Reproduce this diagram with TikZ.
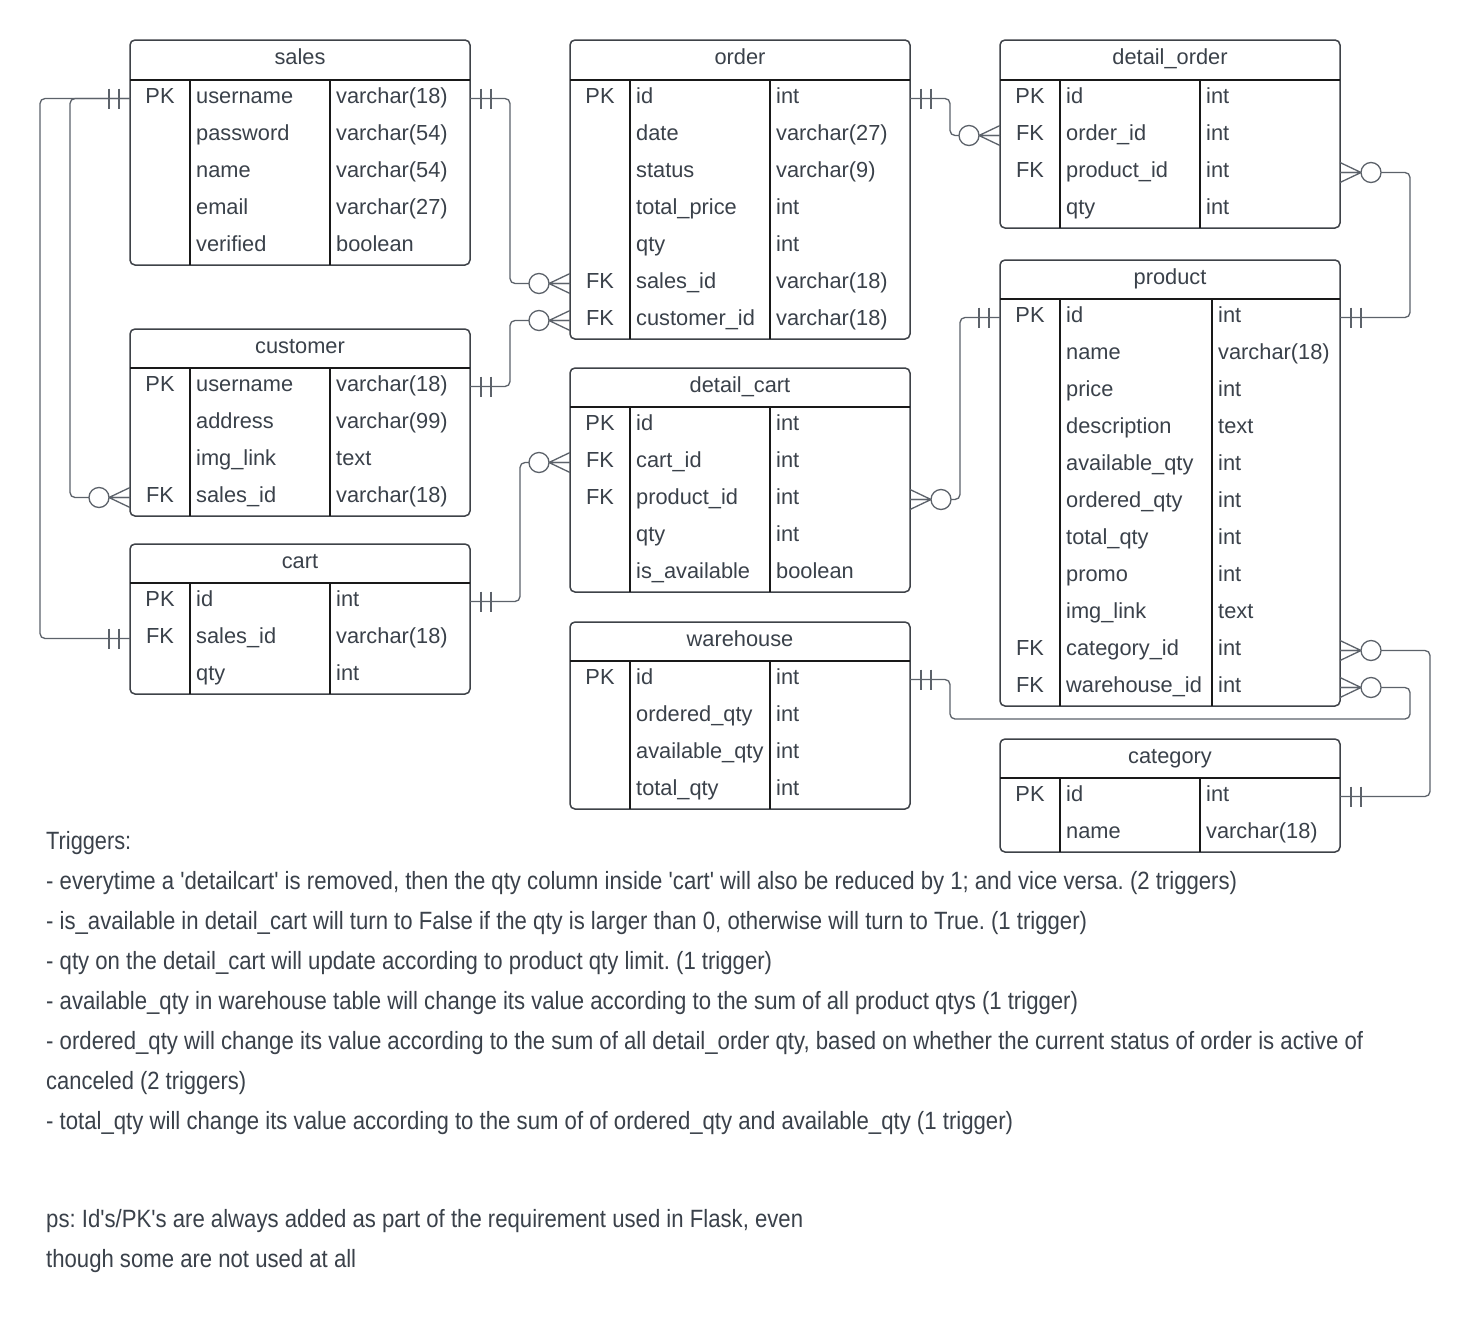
\documentclass[tikz,border=0pt]{standalone}
\usepackage{fontspec}
\usepackage{graphicx}
\setmainfont{Liberation Sans}
\frenchspacing

\definecolor{ink}{RGB}{58,65,74}
\definecolor{frame}{RGB}{62,66,72}
\definecolor{rulecol}{RGB}{25,25,25}
\definecolor{wire}{RGB}{92,98,106}

% condensed note lines: set each line to a given width
\newsavebox\notebox
\newlength\notew
\newcommand{\notefit}[2]{%
  \sbox\notebox{#2}\notew=\wd\notebox
  \pgfmathsetmacro\notescale{#1/\notew}%
  \scalebox{\notescale}[1]{\usebox\notebox}}
\newcommand{\notesize}{\fontsize{25}{30}\selectfont}
\newcommand{\sq}{\textquotesingle}

\tikzset{
  entity/.style={draw=frame, line width=1.5pt, fill=white, rounded corners=5pt,
    anchor=north west, minimum width=340pt, inner sep=0pt, outer sep=0pt},
  tabrule/.style={draw=rulecol, line width=1.4pt},
  rowslot/.style={anchor=north west, minimum width=340pt, minimum height=37pt,
    inner sep=0pt, outer sep=0pt},
  celltext/.style={inner sep=0pt, text=ink},
  wire/.style={draw=wire, line width=1.3pt, rounded corners=5pt},
  onebar/.pic={\draw[wire, rounded corners=0pt] (-11,-10) -- (-11,10) (-21,-10) -- (-21,10);},
  crowfoot/.pic={\draw[wire, rounded corners=0pt] (0,-10) -- (-21,0) -- (0,10) (0,0) -- (-21,0);
    \filldraw[wire, fill=white] (-31,0) circle[radius=10];},
  noteline/.style={anchor=base west, inner sep=0pt, text=ink, font=\notesize},
}

% #1 name, #2 left, #3 top, #4 header bottom, #5 rows, #6 type column offset,
% #7 title, #8 rows as key/field/type
\newcommand{\erentity}[8]{%
  \pgfmathsetmacro\erbot{#4+37*#5}%
  \node[entity, minimum height={\erbot-#3}] (#1) at (#2,#3) {};
  \draw[tabrule] (#2,#4) -- ++(340,0);
  \draw[tabrule] ({#2+60},#4) -- ({#2+60},\erbot);
  \draw[tabrule] ({#2+#6},#4) -- ({#2+#6},\erbot);
  \node[celltext, anchor=base] (#1-title) at ({#2+170},{#3+24}) {#7};
  \foreach \k/\f/\t [count=\i] in {#8} {
    \pgfmathsetmacro\rt{#4+37*(\i-1)}
    \node[rowslot] (#1-r\i) at (#2,\rt) {};
    \node[celltext, anchor=base] (#1-k\i) at ({#2+30},{\rt+23}) {\k};
    \node[celltext, anchor=base west] (#1-f\i) at ({#2+66},{\rt+23}) {\f};
    \node[celltext, anchor=base west] (#1-t\i) at ({#2+#6+6},{\rt+23}) {\t};
  }%
}

\begin{document}
\begin{tikzpicture}[x=1pt, y=-1pt, font=\fontsize{21.8}{26}\selectfont]
\fill[white] (0,0) rectangle (1480,1317);
\useasboundingbox (0,0) rectangle (1480,1317);

% tables
\erentity{sales}{130}{40}{80}{5}{200}{sales}{PK/username/varchar(18), /password/varchar(54), /name/varchar(54), /email/varchar(27), /verified/boolean}
\erentity{order}{570}{40}{80}{7}{200}{order}{PK/id/int, /date/varchar(27), /status/varchar(9), /total\_price/int, /qty/int, FK/sales\_id/varchar(18), FK/customer\_id/varchar(18)}
\erentity{dorder}{1000}{40}{80}{4}{200}{detail\_order}{PK/id/int, FK/order\_id/int, FK/product\_id/int, /qty/int}
\erentity{customer}{130}{329}{368}{4}{200}{customer}{PK/username/varchar(18), /address/varchar(99), /img\_link/text, FK/sales\_id/varchar(18)}
\erentity{cart}{130}{544}{583}{3}{200}{cart}{PK/id/int, FK/sales\_id/varchar(18), /qty/int}
\erentity{dcart}{570}{368}{407}{5}{200}{detail\_cart}{PK/id/int, FK/cart\_id/int, FK/product\_id/int, /qty/int, /is\_available/boolean}
\erentity{warehouse}{570}{622}{661}{4}{200}{warehouse}{PK/id/int, /ordered\_qty/int, /available\_qty/int, /total\_qty/int}
\erentity{product}{1000}{260}{299}{11}{212}{product}{PK/id/int, /name/varchar(18), /price/int, /description/text, /available\_qty/int, /ordered\_qty/int, /total\_qty/int, /promo/int, /img\_link/text, FK/category\_id/int, FK/warehouse\_id/int}
\erentity{category}{1000}{739}{778}{2}{200}{category}{PK/id/int, /name/varchar(18)}

% relationships
\coordinate (whbend) at (950,719);
\draw[wire] (sales-r1.west) -- ++(-90,0) |- (cart-r2.west);
\draw[wire] (sales-r1.west) -- ++(-60,0) |- (customer-r4.west);
\draw[wire] (sales-r1.east) -- ++(40,0) |- (order-r6.west);
\draw[wire] (customer-r1.east) -- ++(40,0) |- (order-r7.west);
\draw[wire] (order-r1.east) -- ++(40,0) |- (dorder-r2.west);
\draw[wire] (dorder-r3.east) -- ++(70,0) |- (product-r1.east);
\draw[wire] (product-r1.west) -- ++(-40,0) |- (dcart-r3.east);
\draw[wire] (cart-r1.east) -- ++(50,0) |- (dcart-r2.west);
\draw[wire] (product-r10.east) -- ++(90,0) |- (category-r1.east);
\draw[wire] (product-r11.east) -- ++(70,0) |- (whbend) |- (warehouse-r1.east);

% cardinality marks
\pic at (sales-r1.west) {onebar};
\pic at (cart-r2.west) {onebar};
\pic at (customer-r4.west) {crowfoot};
\pic[xscale=-1] at (sales-r1.east) {onebar};
\pic at (order-r6.west) {crowfoot};
\pic[xscale=-1] at (customer-r1.east) {onebar};
\pic at (order-r7.west) {crowfoot};
\pic[xscale=-1] at (order-r1.east) {onebar};
\pic at (dorder-r2.west) {crowfoot};
\pic[xscale=-1] at (dorder-r3.east) {crowfoot};
\pic[xscale=-1] at (product-r1.east) {onebar};
\pic at (product-r1.west) {onebar};
\pic[xscale=-1] at (dcart-r3.east) {crowfoot};
\pic[xscale=-1] at (cart-r1.east) {onebar};
\pic at (dcart-r2.west) {crowfoot};
\pic[xscale=-1] at (product-r10.east) {crowfoot};
\pic[xscale=-1] at (category-r1.east) {onebar};
\pic[xscale=-1] at (product-r11.east) {crowfoot};
\pic[xscale=-1] at (warehouse-r1.east) {onebar};

% notes
\node[noteline] (n0) at (46,849) {\notefit{85}{Triggers:}};
\node[noteline] (n1) at (46,889) {\notefit{1191}{- everytime a \sq detailcart\sq\ is removed, then the qty column inside \sq cart\sq\ will also be reduced by 1; and vice versa. (2 triggers)}};
\node[noteline] (n2) at (46,929) {\notefit{1041}{- is\_available in detail\_cart will turn to False if the qty is larger than 0, otherwise will turn to True. (1 trigger)}};
\node[noteline] (n3) at (46,969) {\notefit{726}{- qty on the detail\_cart will update according to product qty limit. (1 trigger)}};
\node[noteline] (n4) at (46,1009) {\notefit{1032}{- available\_qty in warehouse table will change its value according to the sum of all product qtys (1 trigger)}};
\node[noteline] (n5) at (46,1049) {\notefit{1317}{- ordered\_qty will change its value according to the sum of all detail\_order qty, based on whether the current status of order is active of}};
\node[noteline] (n6) at (46,1089) {\notefit{200}{canceled (2 triggers)}};
\node[noteline] (n7) at (46,1129) {\notefit{967}{- total\_qty will change its value according to the sum of of ordered\_qty and available\_qty (1 trigger)}};
\node[noteline] (n8) at (46,1227) {\notefit{757}{ps: Id\sq s/PK\sq s are always added as part of the requirement used in Flask, even}};
\node[noteline] (n9) at (46,1267) {\notefit{310}{though some are not used at all}};
\end{tikzpicture}
\end{document}
